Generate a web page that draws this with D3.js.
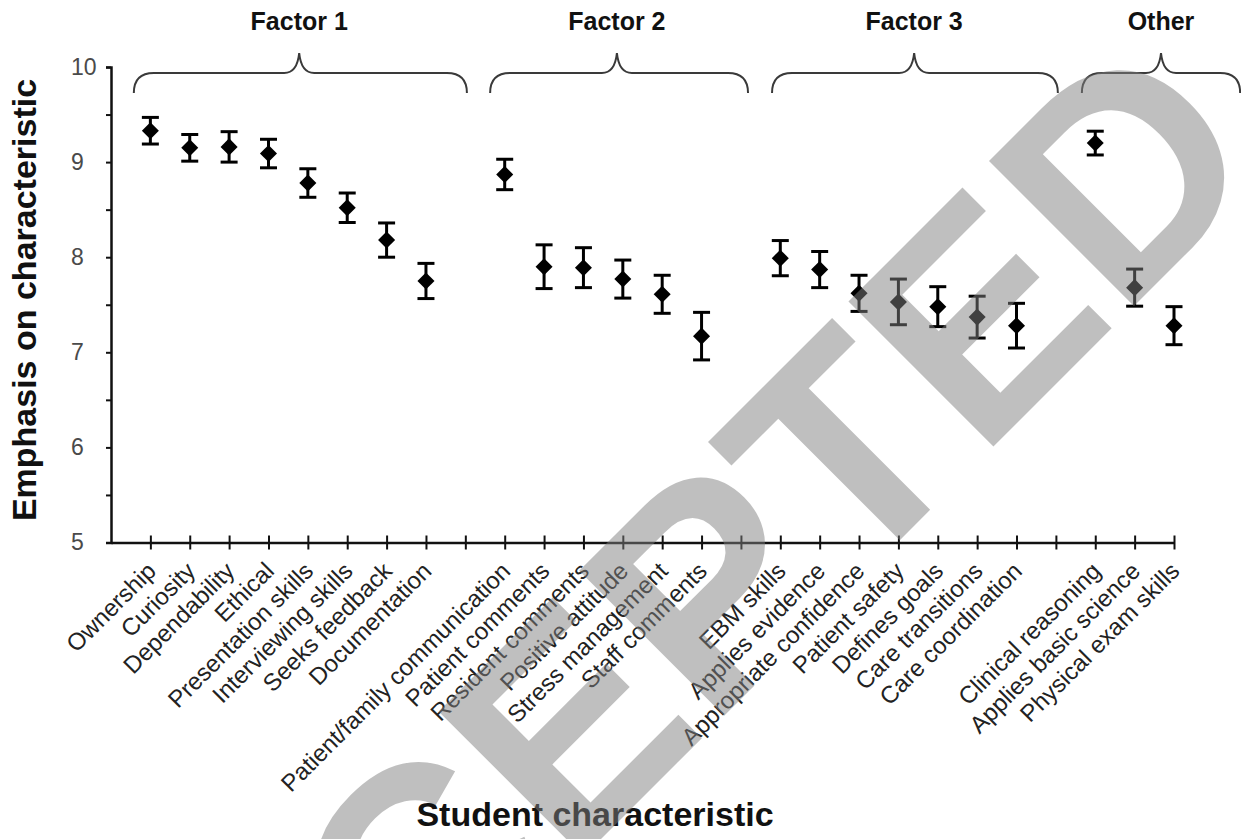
<!DOCTYPE html>
<html>
<head>
<meta charset="utf-8">
<script src="https://cdn.jsdelivr.net/npm/d3@7"></script>
<style>
  html, body { margin: 0; padding: 0; background: #fff; }
  svg { display: block; font-family: "Liberation Sans", Arial, Helvetica, sans-serif; }
</style>
</head>
<body>
<svg id="chart" width="1241" height="839"></svg>
<script>
// Student characteristics (blank entries are spacer slots between groups)
const categories = [
  "Ownership", "Curiosity", "Dependability", "Ethical", "Presentation skills",
  "Interviewing skills", "Seeks feedback", "Documentation", "",
  "Patient/family communication", "Patient comments", "Resident comments",
  "Positive attitude", "Stress management", "Staff comments", "",
  "EBM skills", "Applies evidence", "Appropriate confidence", "Patient safety",
  "Defines goals", "Care transitions", "Care coordination", "",
  "Clinical reasoning", "Applies basic science", "Physical exam skills"
];

// Mean emphasis rating for each characteristic
const means = [
  9.33, 9.15, 9.16, 9.09, 8.78, 8.52, 8.18, 7.75, null,
  8.87, 7.90, 7.89, 7.77, 7.61, 7.17, null,
  7.99, 7.87, 7.62, 7.53, 7.48, 7.37, 7.28, null,
  9.20, 7.68, 7.28
];

// Half-width of each error bar
const errors = [
  0.14, 0.14, 0.16, 0.15, 0.15, 0.155, 0.18, 0.185, null,
  0.16, 0.23, 0.21, 0.20, 0.20, 0.25, null,
  0.185, 0.19, 0.19, 0.24, 0.21, 0.22, 0.235, null,
  0.125, 0.195, 0.20
];

// Group names shown above the braces
const groupNames = ["Factor 1", "Factor 2", "Factor 3", "Other"];
// Brace extents in category units: start, apex, end
const braceStart = [0.58, 9.63, 16.79, 24.66];
const braceApex  = [4.78, 12.85, 20.40, 26.67];
const braceEnd   = [9.04, 16.18, 24.05, 28.68];

const yTickValues = [5, 6, 7, 8, 9, 10];
const yMinorValues = [5.5, 6.5, 7.5, 8.5, 9.5];

const svg = d3.select("#chart");

const x = d3.scaleLinear().domain([0, categories.length]).range([111, 1174]);
const y = d3.scaleLinear().domain([5, 10]).range([542.5, 67]);
const axisY = y(5);

const data = categories.map((c, i) => ({ name: c, pos: i + 1, mean: means[i], err: errors[i] }));
const points = data.filter(d => d.mean != null);

// ---- y axis ----
const gy = svg.append("g")
  .attr("transform", `translate(${x(0)},0)`)
  .call(d3.axisLeft(y).tickValues(yTickValues).tickSize(5).tickFormat(d3.format("d")));
gy.select(".domain").attr("stroke", "#111").attr("stroke-width", 2.5);
gy.selectAll(".tick line").attr("stroke", "#111").attr("stroke-width", 2);
gy.selectAll(".tick text")
  .attr("x", -(x(0) - 71))
  .attr("text-anchor", "start")
  .attr("font-size", 23)
  .attr("fill", "#4a4a4a");

svg.append("g")
  .attr("transform", `translate(${x(0)},0)`)
  .call(d3.axisLeft(y).tickValues(yMinorValues).tickSize(5).tickFormat(""))
  .call(g => g.select(".domain").remove())
  .selectAll(".tick line").attr("stroke", "#111").attr("stroke-width", 2);

// ---- x axis ----
const gx = svg.append("g")
  .attr("transform", `translate(0,${axisY})`)
  .call(d3.axisBottom(x)
    .tickValues(d3.range(1, categories.length + 1))
    .tickSize(7)
    .tickSizeOuter(0)
    .tickFormat(""));
gx.select(".domain").attr("stroke", "#111").attr("stroke-width", 2.5);
gx.selectAll(".tick line")
  .attr("y1", -7).attr("y2", 7)
  .attr("stroke", "#111").attr("stroke-width", 2);

// Rotated category labels
svg.append("g").selectAll("text")
  .data(data.filter(d => d.name))
  .join("text")
  .attr("transform", d => `translate(${x(d.pos) + 7},${axisY + 30}) rotate(-45)`)
  .attr("text-anchor", "end")
  .attr("font-size", 24)
  .attr("fill", "#222")
  .text(d => d.name);

// ---- error bars ----
const capHalf = 8.5;
const eb = svg.append("g").attr("stroke", "#000").attr("stroke-width", 3);
eb.selectAll("line.stem").data(points).join("line")
  .attr("class", "stem")
  .attr("x1", d => x(d.pos)).attr("x2", d => x(d.pos))
  .attr("y1", d => y(d.mean - d.err)).attr("y2", d => y(d.mean + d.err));
eb.selectAll("line.top").data(points).join("line")
  .attr("class", "top")
  .attr("x1", d => x(d.pos) - capHalf).attr("x2", d => x(d.pos) + capHalf)
  .attr("y1", d => y(d.mean + d.err)).attr("y2", d => y(d.mean + d.err));
eb.selectAll("line.bottom").data(points).join("line")
  .attr("class", "bottom")
  .attr("x1", d => x(d.pos) - capHalf).attr("x2", d => x(d.pos) + capHalf)
  .attr("y1", d => y(d.mean - d.err)).attr("y2", d => y(d.mean - d.err));

// ---- diamond markers ----
const diamond = d3.symbol().type(d3.symbolDiamond2).size(185);
svg.append("g").selectAll("path").data(points).join("path")
  .attr("d", diamond)
  .attr("transform", d => `translate(${x(d.pos)},${y(d.mean)})`)
  .attr("fill", "#000");

// ---- group braces and names ----
const braceTop = 53, braceMid = 73, braceFoot = 93;
groupNames.forEach((name, i) => {
  const x0 = x(braceStart[i]), xm = x(braceApex[i]), x1 = x(braceEnd[i]);
  const p = d3.path();
  p.moveTo(x0, braceFoot);
  p.quadraticCurveTo(x0, braceMid, x0 + 20, braceMid);
  p.lineTo(xm - 15, braceMid);
  p.quadraticCurveTo(xm - 2, braceMid, xm, braceTop);
  p.quadraticCurveTo(xm + 2, braceMid, xm + 15, braceMid);
  p.lineTo(x1 - 20, braceMid);
  p.quadraticCurveTo(x1, braceMid, x1, braceFoot);
  svg.append("path")
    .attr("d", p.toString())
    .attr("fill", "none")
    .attr("stroke", "#3a3a3a")
    .attr("stroke-width", 2);
  svg.append("text")
    .attr("x", xm)
    .attr("y", 30)
    .attr("text-anchor", "middle")
    .attr("font-size", 25)
    .attr("font-weight", "bold")
    .attr("fill", "#111")
    .text(name);
});

// ---- axis titles ----
svg.append("text")
  .attr("transform", "translate(36,300) rotate(-90)")
  .attr("text-anchor", "middle")
  .attr("font-size", 34)
  .attr("font-weight", "bold")
  .attr("fill", "#111")
  .text("Emphasis on characteristic");

svg.append("text")
  .attr("x", 595)
  .attr("y", 826)
  .attr("text-anchor", "middle")
  .attr("font-size", 34)
  .attr("font-weight", "bold")
  .attr("fill", "#111")
  .text("Student characteristic");

// ---- status stamp overlay ----
svg.append("text")
  .attr("transform", "translate(113,1327) rotate(-45)")
  .attr("font-size", 298)
  .attr("font-weight", "bold")
  .attr("fill", "#808080")
  .attr("opacity", 0.5)
  .text("ACCEPTED");
</script>
</body>
</html>
